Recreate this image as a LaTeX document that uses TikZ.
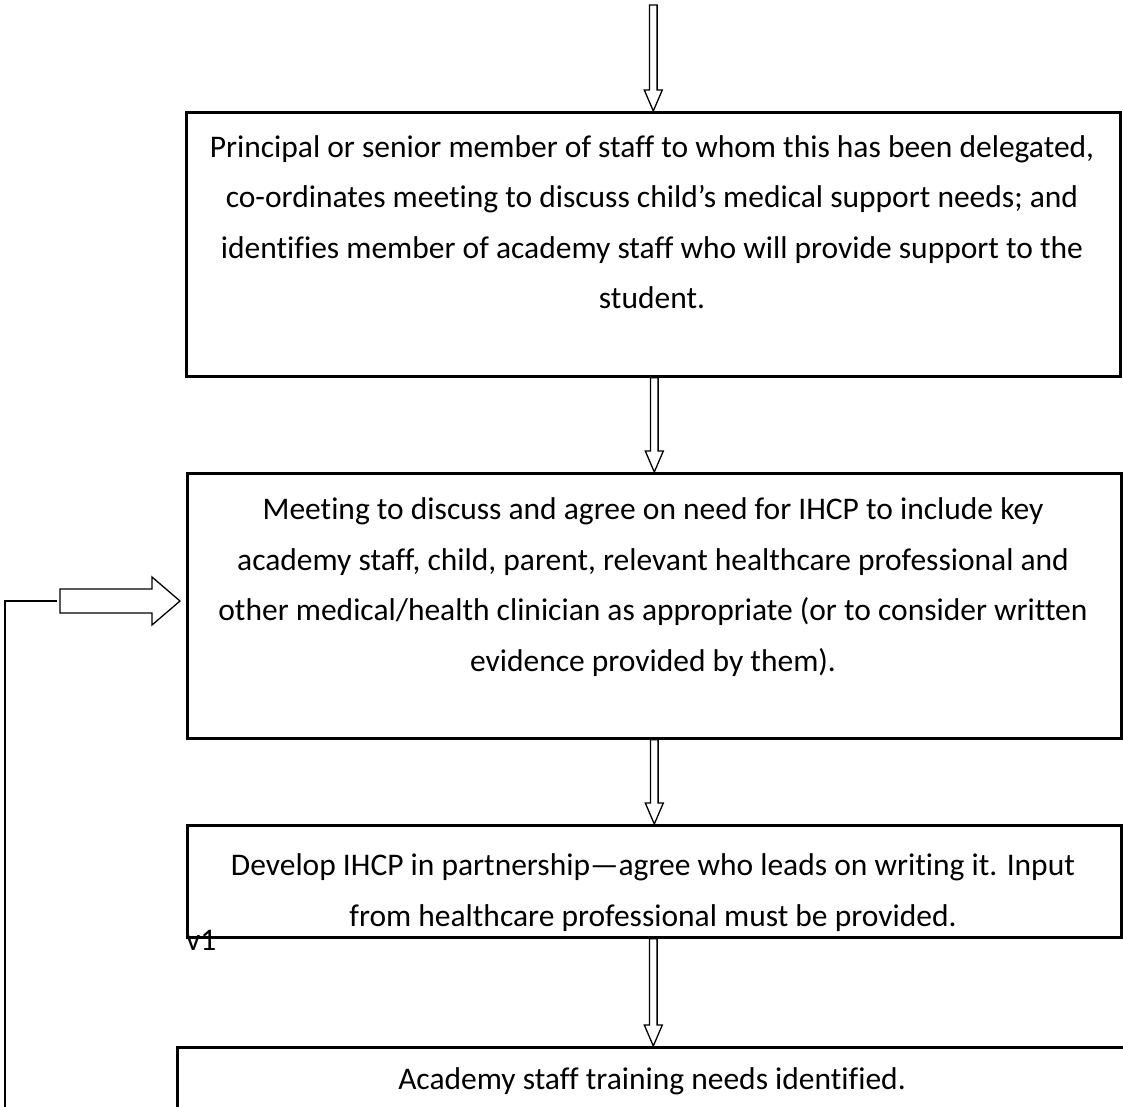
\documentclass[tikz,border=0pt]{standalone}
\usepackage{fontspec}
\setmainfont{Carlito}[Ligatures=NoCommon]
\usetikzlibrary{calc}
\newcommand{\blockdown}[2]{\path[blk] let \p1=(#1), \p2=(#2) in
 (\x2-3.8pt,\y1) -- (\x2-3.8pt,\y2+21pt) -- (\x2-9pt,\y2+21pt) -- (\x2,\y2) -- (\x2+9pt,\y2+21pt) -- (\x2+3.8pt,\y2+21pt) -- (\x2+3.8pt,\y1) -- cycle;}
\begin{document}
\begin{tikzpicture}[x=1pt,y=-1pt,
  box/.style={draw, line width=2.6pt, inner sep=0pt, anchor=north west},
  txt/.style={font=\fontsize{31.5}{50.5}\selectfont, align=center, inner sep=0pt, anchor=base},
  blk/.style={draw, line width=1.3pt, fill=white, line join=miter},
  conn/.style={draw, line width=1.3pt}]
\useasboundingbox[fill=white] (0,0) rectangle (1123,1106);

\node[box, minimum width=934pt, minimum height=264pt] (b1) at (185,111) {};
\node[txt] (t1) at (652,308.5) {Principal or senior member of staff to whom this has been delegated,\\
co-ordinates meeting to discuss child’s medical support needs; and\\
identifies member of academy staff who will provide support to the\\
student.};

\node[box, minimum width=934pt, minimum height=265pt] (b2) at (186,472) {};
\node[txt] (t2) at (653,671) {Meeting to discuss and agree on need for IHCP to include key\\
academy staff, child, parent, relevant healthcare professional and\\
other medical/health clinician as appropriate (or to consider written\\
evidence provided by them).};

\node[box, minimum width=934pt, minimum height=112pt] (b3) at (186,824) {};
\node[txt] (t3) at (653,926) {Develop IHCP in partnership—agree who leads on writing it. Input\\
from healthcare professional must be provided.};

\node[box, minimum width=952pt, minimum height=100pt] (b4) at (176,1046) {};
\node[txt] (t4) at (652,1089) {Academy staff training needs identified.};

\node[font=\fontsize{31.5}{38}\selectfont, inner sep=0pt, anchor=base west] (v1) at (186,950) {v1};

\coordinate (top) at (651,5);
\blockdown{top}{b1.north}
\blockdown{b1.south}{b2.north}
\blockdown{b2.south}{b3.north}
\blockdown{b3.south}{b4.north}

\coordinate (lb) at (5,1110);
\coordinate (lc) at (57,601);
\coordinate (la) at (180,601);
\draw[conn] (lb) -- (5,601) -- (lc);
\path[blk] ($(la)+(-120,-12)$) -- ($(la)+(-28,-12)$) -- ($(la)+(-28,-24)$) -- (la) -- ($(la)+(-28,24)$) -- ($(la)+(-28,12)$) -- ($(la)+(-120,12)$) -- cycle;
\end{tikzpicture}
\end{document}
